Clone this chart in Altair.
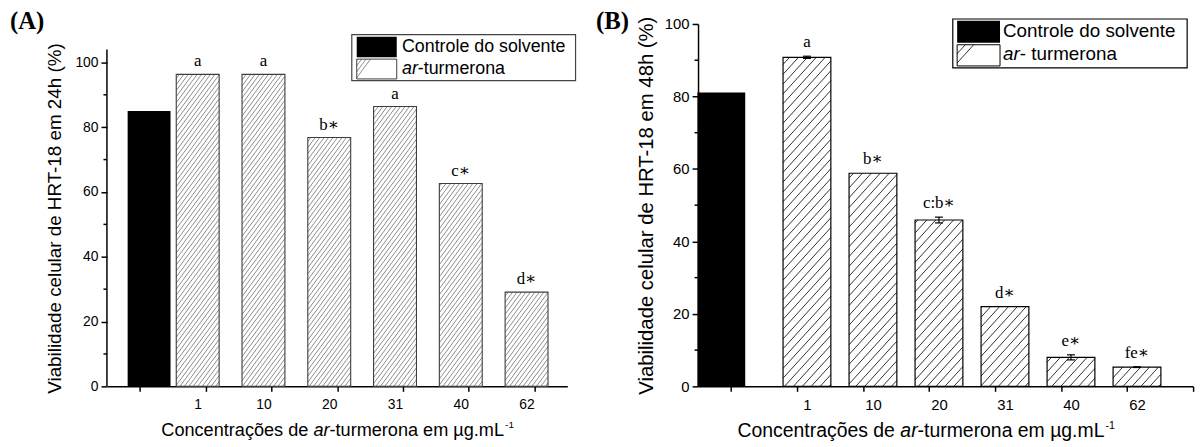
import json

import altair as alt
import numpy as np
import pandas as pd

# Concentrations of ar-turmerone (µg/mL); the first slot is the solvent control
categories = ["", "1", "10", "20", "31", "40", "62"]

# HRT-18 cell viability (%) after 24 h
viab_24h = [85.0, 96.3, 96.3, 76.8, 86.4, 62.6, 29.1]
err_24h = [0.0, 0.0, 0.0, 0.0, 0.0, 0.0, 0.0]
letters_24h = ["", "a", "a", "b∗", "a", "c∗", "d∗"]

# HRT-18 cell viability (%) after 48 h
viab_48h = [81.1, 90.8, 58.8, 45.9, 22.0, 8.0, 5.3]
err_48h = [0.0, 0.3, 0.0, 0.8, 0.0, 0.7, 0.1]
letters_48h = ["", "a", "b∗", "c:b∗", "d∗", "e∗", "fe∗"]

y_major = [0, 20, 40, 60, 80, 100]
y_minor = [10, 30, 50, 70, 90]

SANS = "Liberation Sans, Arial, Helvetica, sans-serif"
SERIF = "Liberation Serif, Times New Roman, DejaVu Serif, serif"
PLOT_H = 366

# Arial / Liberation Sans advance widths (1/1000 em) for placing mixed-style text
ARIAL = {" ": 278, "C": 722, "o": 556, "n": 556, "c": 500, "e": 556, "t": 278,
         "r": 333, "a": 556, "ç": 500, "õ": 556, "s": 500, "d": 556, "-": 333,
         "u": 556, "m": 833, "µ": 576, "g": 556, ".": 278, "L": 556, "1": 556}


def text_w(s, size):
    return sum(ARIAL.get(ch, 556) for ch in s) * size / 1000.0


def hatch_lines(xl, xr, yb, yt, step, slope):
    """'/' hatch segments clipped to a rectangle (pixel units, y up)."""
    out = []
    c = np.floor((xl - yt / slope) / step) * step
    while c <= xr:
        lo = max(yb, (xl - c) * slope)
        hi = min(yt, (xr - c) * slope)
        if hi - lo > 0.3:
            out.append((c + lo / slope, lo, c + hi / slope, hi))
        c += step
    return out


def panel(values, errors, letters, s):
    x0d, x1d = s["xdom"]
    xs = alt.Scale(domain=[x0d, x1d], nice=False, zero=False)
    ys = alt.Scale(domain=[0, s["ymax"]], nice=False, zero=False)
    kx = s["width"] / (x1d - x0d)
    ky = PLOT_H / s["ymax"]

    rows = []
    for i, (v, e, t) in enumerate(zip(values, errors, letters)):
        c = i + (s["ctrl_off"] if i == 0 else s["trt_off"])
        rows.append(dict(kind="ctrl" if i == 0 else "trt", value=v, base=0.0,
                         lo=v - e, hi=v + e, err=e, xc=c,
                         x0=c - s["bar_w"] / 2, x1=c + s["bar_w"] / 2,
                         cl=c - s["cap"], cr=c + s["cap"], label=t))
    bars = pd.DataFrame(rows)
    trt = bars[bars.kind == "trt"]

    segs = []
    for r in trt.itertuples():
        for a, b, c2, d in hatch_lines(r.x0 * kx, r.x1 * kx, 0.0, r.value * ky,
                                       s["step"], s["slope"]):
            segs.append(dict(x=a / kx, y=b / ky, x2=c2 / kx, y2=d / ky))
    hatch = pd.DataFrame(segs)

    tick_labels = categories + [""] * (s["n_ticks"] - len(categories))
    label_expr = "[" + ",".join(json.dumps(c) for c in tick_labels) + "][datum.value]"

    x_axis = alt.Axis(values=list(range(s["n_ticks"])), labelExpr=label_expr, title=None,
                      tickSize=5, labelPadding=6, labelOffset=s["label_off"],
                      labelFontSize=s["tick_fs"], labelFlush=False, labelOverlap=False)
    y_kw = dict(values=y_major, title=s["ytitle"], tickSize=6, labelPadding=3,
                labelFontSize=s["tick_fs"], titleFontSize=s["ytitle_fs"],
                titleFontWeight="normal", titleX=s["ytitle_x"],
                titleBaseline="middle", domain=s["axis_top"] is None,
                labelFlush=False, labelOverlap=False)
    if s.get("ytitle_y") is not None:
        y_kw["titleY"] = s["ytitle_y"]
    y_axis = alt.Axis(**y_kw)

    # every layer shares the same scale and axis definitions
    X = lambda f: alt.X(f, scale=xs, axis=x_axis)
    Y = lambda f: alt.Y(f, scale=ys, axis=y_axis)

    layers = []
    layers.append(alt.Chart(bars).mark_rect(strokeWidth=0).encode(
        x=X("x0:Q"), x2="x1:Q", y=Y("value:Q"), y2="base:Q",
        fill=alt.Fill("kind:N", scale=alt.Scale(domain=["ctrl", "trt"],
                                                range=["black", "white"]), legend=None)))
    layers.append(alt.Chart(hatch).mark_rule(color=s["hatch_color"], strokeWidth=s["hatch_w"]).encode(
        x=X("x:Q"), x2="x2:Q", y=Y("y:Q"), y2="y2:Q"))
    layers.append(alt.Chart(trt).mark_rect(fillOpacity=0, stroke=s["outline"],
                                           strokeWidth=s["outline_w"]).encode(
        x=X("x0:Q"), x2="x1:Q", y=Y("value:Q"), y2="base:Q"))

    errs = bars[bars.err > 0]
    if len(errs):
        layers.append(alt.Chart(errs).mark_rule(color="black", strokeWidth=1.2).encode(
            x=X("xc:Q"), y=Y("lo:Q"), y2="hi:Q"))
        for f in ("lo", "hi"):
            layers.append(alt.Chart(errs).mark_rule(color="black", strokeWidth=1.2).encode(
                x=X("cl:Q"), x2="cr:Q", y=Y(f + ":Q")))

    layers.append(alt.Chart(bars[bars.label != ""]).mark_text(
        font=SERIF, fontSize=s["lab_fs"], baseline="alphabetic", dy=-s["lab_dy"],
        color="black").encode(x=X("xc:Q"), y=Y("hi:Q"), text="label:N"))

    # minor ticks on the value axis
    layers.append(alt.Chart(pd.DataFrame({"v": y_minor})).mark_rule(
        color="black", strokeWidth=1.5).encode(x=alt.value(-3.5), x2=alt.value(0), y=Y("v:Q")))

    if s["axis_top"] is not None:
        layers.append(alt.Chart(pd.DataFrame({"a": [0.0], "b": [s["axis_top"]]})).mark_rule(
            color="black", strokeWidth=1.5).encode(x=alt.value(0), y=Y("a:Q"), y2="b:Q"))

    # legend (pixel layout inside the plot)
    one = pd.DataFrame({"k": [0]})
    lg = s["legend"]

    def rect(r, **kw):
        L, T, R, B = r
        return alt.Chart(one).mark_rect(**kw).encode(
            x=alt.value(L), x2=alt.value(R), y=alt.value(T), y2=alt.value(B))

    layers.append(rect(lg["box"], fill="white", stroke=lg["stroke"], strokeWidth=1.2))
    layers.append(rect(lg["black"], fill="black"))
    layers.append(rect(lg["hatch"], fill="white"))
    L, T, R, B = lg["hatch"]
    lsegs = []
    for a, b, c2, d in hatch_lines(L, R, -B, -T, lg["step"], s["slope"]):
        lsegs.append(dict(x=x0d + a / kx, y=s["ymax"] + b / ky,
                          x2=x0d + c2 / kx, y2=s["ymax"] + d / ky))
    layers.append(alt.Chart(pd.DataFrame(lsegs)).mark_rule(
        color=s["hatch_color"], strokeWidth=s["hatch_w"]).encode(
        x=X("x:Q"), x2="x2:Q", y=Y("y:Q"), y2="y2:Q"))
    layers.append(rect(lg["hatch"], fillOpacity=0, stroke=s["outline"], strokeWidth=1))

    fs = lg["fs"]
    tx = lg["text_x"]
    r1, r2 = lg["rows"]
    layers.append(alt.Chart(one).mark_text(text="Controle do solvente", align="left",
                                           baseline="middle", font=SANS, fontSize=fs,
                                           color="black").encode(x=alt.value(tx), y=alt.value(r1)))
    layers.append(alt.Chart(one).mark_text(text="ar", align="left", baseline="middle",
                                           font=SANS, fontSize=fs, fontStyle="italic",
                                           color="black").encode(x=alt.value(tx), y=alt.value(r2)))
    layers.append(alt.Chart(one).mark_text(text=lg["rest"], align="left", baseline="middle",
                                           font=SANS, fontSize=fs, color="black").encode(
        x=alt.value(tx + text_w("ar", fs)), y=alt.value(r2)))

    # category-axis title with italic "ar" and superscript exponent
    tfs = s["xtitle_fs"]
    parts = [("Concentrações de ", "normal"), ("ar", "italic"), ("-turmerona em µg.mL", "normal")]
    sup_fs = tfs * 0.55
    total = sum(text_w(p, tfs) for p, _ in parts) + text_w("-1", sup_fs)
    x = s["xtitle_center"] - total / 2
    yb = s["xtitle_base"]
    for p, style in parts:
        layers.append(alt.Chart(one).mark_text(text=p, align="left", baseline="alphabetic",
                                               font=SANS, fontSize=tfs, fontStyle=style,
                                               color="black").encode(x=alt.value(x), y=alt.value(yb)))
        x += text_w(p, tfs)
    layers.append(alt.Chart(one).mark_text(text="-1", align="left", baseline="alphabetic",
                                           font=SANS, fontSize=sup_fs, color="black").encode(
        x=alt.value(x + 1), y=alt.value(yb - tfs * 0.42)))

    layers.append(alt.Chart(one).mark_text(text=s["letter"], align="left", baseline="alphabetic",
                                           font=SERIF, fontSize=25, fontWeight="bold",
                                           color="black").encode(
        x=alt.value(s["letter_x"]), y=alt.value(s["letter_y"])))

    return alt.layer(*layers).properties(width=s["width"], height=PLOT_H)


style_24h = dict(
    width=465, xdom=(-0.5, 6.5), ymax=111.86, axis_top=104.0, n_ticks=7,
    ctrl_off=0.141, trt_off=-0.12, bar_w=0.652, cap=0.06, label_off=-8,
    tick_fs=14, ytitle="Viabilidade celular de HRT-18 em 24h (%)", ytitle_fs=19,
    ytitle_x=-53, ytitle_y=196, step=4.5, slope=1.35, hatch_color="#707070", hatch_w=0.8,
    outline="#3c3c3c", outline_w=1.1, lab_fs=17, lab_dy=8,
    xtitle_fs=18.3, xtitle_center=232.5, xtitle_base=416,
    letter="(A)", letter_x=-98, letter_y=5,
    legend=dict(box=(247.3, 10.8, 473.3, 57.2), black=(252.3, 12.8, 292.7, 33.5),
                hatch=(252.3, 35.5, 292.7, 55.5), text_x=298, rows=(23, 45.5),
                fs=18, rest="-turmerona", stroke="#444444", step=4.5),
)

style_48h = dict(
    width=500, xdom=(-0.5, 7.0), ymax=100.0, axis_top=None, n_ticks=8,
    ctrl_off=-0.147, trt_off=0.15, bar_w=0.724, cap=0.06, label_off=10,
    tick_fs=15, ytitle="Viabilidade celular de HRT-18 em 48h (%)", ytitle_fs=20.5,
    ytitle_x=-52, ytitle_y=None, step=9, slope=1.1, hatch_color="#1a1a1a", hatch_w=0.9,
    outline="black", outline_w=1.2, lab_fs=17, lab_dy=9,
    xtitle_fs=19.6, xtitle_center=230, xtitle_base=417,
    letter="(B)", letter_x=-103, letter_y=5,
    legend=dict(box=(257.3, -5.0, 494.0, 44.4), black=(261.7, -3.3, 305.0, 19.0),
                hatch=(261.7, 21.0, 305.0, 42.4), text_x=308, rows=(7.4, 30.0),
                fs=19, rest="- turmerona", stroke="black", step=8.5),
)

chart = alt.hconcat(
    panel(viab_24h, err_24h, letters_24h, style_24h),
    panel(viab_48h, err_48h, letters_48h, style_48h),
    spacing=132, bounds="flush",
).properties(
    padding={"left": 10, "top": 7, "right": 0, "bottom": 0},
    background="white",
).configure_axis(
    domainColor="black", domainWidth=1.5, tickColor="black", tickWidth=1.5,
    labelColor="black", labelFont=SANS, titleFont=SANS, titleColor="black", grid=False,
).configure_view(stroke=None)

chart.save("out.html", embed_options={"renderer": "svg", "actions": False})
